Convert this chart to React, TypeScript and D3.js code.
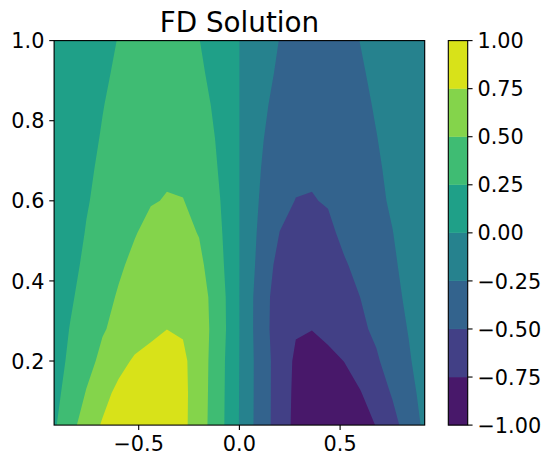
import React from "react";
import * as d3 from "d3";

// grid of the finite-difference solution u(x, t)
const xs = [
  -0.92, -0.84, -0.76, -0.68, -0.6, -0.52, -0.44, -0.36, -0.28, -0.2, -0.12, -0.04,
  0.04, 0.12, 0.2, 0.28, 0.36, 0.44, 0.52, 0.6, 0.68, 0.76, 0.84, 0.92,
];
const ts = [0.04, 0.12, 0.2, 0.28, 0.36, 0.44, 0.52, 0.6, 0.68, 0.76, 0.84, 0.92, 1.0];

// one row per t (ascending), one value per x
const uRows = [
  [0.216, 0.425, 0.607, 0.775, 0.89, 0.94, 0.955, 0.93, 0.807, 0.611, 0.397, 0.137, -0.156, -0.407, -0.617, -0.813, -0.91, -0.955, -0.945, -0.9, -0.737, -0.576, -0.396, -0.2],
  [0.177, 0.348, 0.512, 0.664, 0.815, 0.88, 0.915, 0.9, 0.81, 0.617, 0.404, 0.14, -0.152, -0.406, -0.614, -0.803, -0.88, -0.915, -0.91, -0.763, -0.622, -0.48, -0.322, -0.175],
  [0.149, 0.293, 0.427, 0.553, 0.668, 0.783, 0.84, 0.86, 0.799, 0.618, 0.413, 0.143, -0.149, -0.407, -0.611, -0.789, -0.85, -0.84, -0.745, -0.636, -0.527, -0.403, -0.275, -0.138],
  [0.13, 0.259, 0.37, 0.482, 0.555, 0.621, 0.687, 0.748, 0.726, 0.587, 0.449, 0.152, -0.152, -0.43, -0.62, -0.731, -0.745, -0.66, -0.599, -0.539, -0.46, -0.351, -0.24, -0.12],
  [0.111, 0.221, 0.333, 0.423, 0.522, 0.59, 0.65, 0.685, 0.66, 0.58, 0.44, 0.148, -0.15, -0.428, -0.608, -0.67, -0.685, -0.65, -0.57, -0.499, -0.404, -0.309, -0.211, -0.105],
  [0.097, 0.195, 0.288, 0.376, 0.465, 0.553, 0.6, 0.625, 0.61, 0.554, 0.373, 0.145, -0.145, -0.368, -0.584, -0.615, -0.625, -0.595, -0.52, -0.443, -0.36, -0.279, -0.189, -0.095],
  [0.087, 0.174, 0.259, 0.335, 0.411, 0.487, 0.563, 0.575, 0.557, 0.49, 0.336, 0.14, -0.14, -0.333, -0.503, -0.56, -0.575, -0.545, -0.453, -0.394, -0.324, -0.254, -0.17, -0.085],
  [0.079, 0.158, 0.237, 0.297, 0.354, 0.42, 0.487, 0.51, 0.505, 0.44, 0.304, 0.135, -0.135, -0.299, -0.44, -0.505, -0.51, -0.485, -0.407, -0.349, -0.29, -0.226, -0.151, -0.075],
  [0.071, 0.143, 0.214, 0.286, 0.345, 0.4, 0.445, 0.475, 0.455, 0.385, 0.271, 0.13, -0.13, -0.273, -0.38, -0.455, -0.475, -0.445, -0.4, -0.345, -0.275, -0.207, -0.138, -0.069],
  [0.066, 0.131, 0.197, 0.262, 0.32, 0.37, 0.415, 0.44, 0.425, 0.36, 0.247, 0.12, -0.12, -0.246, -0.36, -0.425, -0.44, -0.415, -0.37, -0.315, -0.254, -0.19, -0.127, -0.063],
  [0.061, 0.121, 0.182, 0.243, 0.301, 0.345, 0.385, 0.41, 0.4, 0.34, 0.215, 0.11, -0.11, -0.211, -0.34, -0.4, -0.41, -0.385, -0.345, -0.295, -0.232, -0.174, -0.116, -0.058],
  [0.055, 0.111, 0.166, 0.222, 0.277, 0.32, 0.355, 0.375, 0.37, 0.29, 0.182, 0.09, -0.09, -0.182, -0.287, -0.37, -0.375, -0.355, -0.32, -0.27, -0.211, -0.16, -0.105, -0.052],
  [0.051, 0.102, 0.154, 0.205, 0.256, 0.3, 0.33, 0.345, 0.33, 0.254, 0.17, 0.07, -0.07, -0.17, -0.255, -0.33, -0.345, -0.33, -0.3, -0.247, -0.197, -0.148, -0.099, -0.049],
];

const levels = [-1, -0.75, -0.5, -0.25, 0, 0.25, 0.5, 0.75, 1];
const xTicks = [-0.5, 0, 0.5];
const yTicks = [0.2, 0.4, 0.6, 0.8, 1.0];
const title = "FD Solution";

const FONT = "DejaVu Sans";
const fmt = (v: number, d: number) => {
  const s = Math.abs(v).toFixed(d);
  return (v < 0 ? "\u2212" : "") + s;
};

export default function App() {
  const W = 551;
  const H = 465;
  const plot = { left: 54.1, right: 424.7, top: 40.6, bottom: 425.1 };
  const cb = { left: 448.3, right: 467.7, top: 40.6, bottom: 425.1 };
  const tickLen = 4.86;
  const pad = 4.86;
  const fs = 20.8;
  const lw = 1.11;

  const n = xs.length;
  const m = ts.length;
  const xScale = d3.scaleLinear().domain([xs[0], xs[n - 1]]).range([plot.left, plot.right]);
  const yScale = d3.scaleLinear().domain([ts[0], ts[m - 1]]).range([plot.bottom, plot.top]);
  const gx = d3.scaleLinear().domain([0.5, n - 0.5]).range([xs[0], xs[n - 1]]);
  const gy = d3.scaleLinear().domain([0.5, m - 0.5]).range([ts[0], ts[m - 1]]);

  const values = uRows.flat();
  const contours = d3
    .contours()
    .size([n, m])
    .thresholds(levels.slice(1, -1))(values);

  const proj = d3.geoTransform({
    point: function (this: any, x: number, y: number) {
      this.stream.point(xScale(gx(x)), yScale(gy(y)));
    },
  });
  const path = d3.geoPath(proj);

  const nb = levels.length - 1;
  const colors = d3.range(nb).map((i) => d3.interpolateViridis((i + 0.5) / nb));

  const cbScale = d3
    .scaleLinear()
    .domain([levels[0], levels[nb]])
    .range([cb.bottom, cb.top]);

  return (
    <svg width={W} height={H} style={{ display: "block", position: "absolute", left: 0, top: 0 }}>
      <rect x={0} y={0} width={W} height={H} fill="white" />
      <defs>
        <clipPath id="plotclip">
          <rect x={plot.left} y={plot.top} width={plot.right - plot.left} height={plot.bottom - plot.top} />
        </clipPath>
      </defs>
      <g clipPath="url(#plotclip)">
        <rect
          x={plot.left}
          y={plot.top}
          width={plot.right - plot.left}
          height={plot.bottom - plot.top}
          fill={colors[0]}
        />
        {contours.map((c, i) => (
          <path key={i} d={path(c as any) || ""} fill={colors[i + 1]} stroke="none" />
        ))}
      </g>
      <rect
        x={plot.left}
        y={plot.top}
        width={plot.right - plot.left}
        height={plot.bottom - plot.top}
        fill="none"
        stroke="black"
        strokeWidth={lw}
      />
      {xTicks.map((t) => (
        <g key={"xt" + t}>
          <line x1={xScale(t)} x2={xScale(t)} y1={plot.bottom} y2={plot.bottom + tickLen} stroke="black" strokeWidth={lw} />
          <text
            x={xScale(t)}
            y={plot.bottom + tickLen + pad + fs * 0.76}
            textAnchor="middle"
            fontFamily={FONT}
            fontSize={fs}
            fill="black"
          >
            {fmt(t, 1)}
          </text>
        </g>
      ))}
      {yTicks.map((t) => (
        <g key={"yt" + t}>
          <line x1={plot.left - tickLen} x2={plot.left} y1={yScale(t)} y2={yScale(t)} stroke="black" strokeWidth={lw} />
          <text
            x={plot.left - tickLen - pad}
            y={yScale(t) + fs * 0.365}
            textAnchor="end"
            fontFamily={FONT}
            fontSize={fs}
            fill="black"
          >
            {fmt(t, 1)}
          </text>
        </g>
      ))}
      <text
        x={(plot.left + plot.right) / 2}
        y={plot.top - 8.3}
        textAnchor="middle"
        fontFamily={FONT}
        fontSize={27.8}
        fill="black"
      >
        {title}
      </text>
      {/* colorbar */}
      {d3.range(nb).map((i) => (
        <rect
          key={"cb" + i}
          x={cb.left}
          y={cbScale(levels[i + 1])}
          width={cb.right - cb.left}
          height={cbScale(levels[i]) - cbScale(levels[i + 1])}
          fill={colors[i]}
          stroke={colors[i]}
          strokeWidth={0.3}
        />
      ))}
      <rect
        x={cb.left}
        y={cb.top}
        width={cb.right - cb.left}
        height={cb.bottom - cb.top}
        fill="none"
        stroke="black"
        strokeWidth={lw}
      />
      {levels.map((t) => (
        <g key={"ct" + t}>
          <line x1={cb.right} x2={cb.right + tickLen} y1={cbScale(t)} y2={cbScale(t)} stroke="black" strokeWidth={lw} />
          <text
            x={cb.right + tickLen + pad}
            y={cbScale(t) + fs * 0.365}
            textAnchor="start"
            fontFamily={FONT}
            fontSize={fs}
            fill="black"
          >
            {fmt(t, 2)}
          </text>
        </g>
      ))}
    </svg>
  );
}
